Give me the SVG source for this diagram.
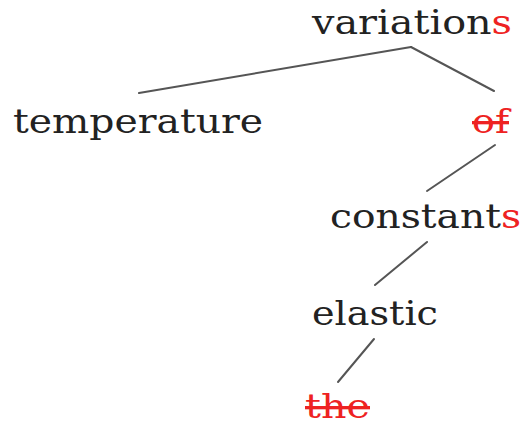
<svg xmlns="http://www.w3.org/2000/svg" width="525" height="428" viewBox="0 0 525 428">
<style>
text{font-family:"DejaVu Serif","Liberation Serif",serif;font-size:33px;fill:#222}
.r{fill:#ee2222}
.x{fill:#ee2222;text-decoration:line-through}
.e line{stroke:#555;stroke-width:2;stroke-linecap:round}
</style>
<rect width="525" height="428" fill="#fff"/>
<g id="edges" class="e">
<line x1="411" y1="47" x2="139" y2="93"/>
<line x1="411" y1="47" x2="494" y2="91"/>
<line x1="495" y1="145" x2="427" y2="191"/>
<line x1="427" y1="242" x2="375" y2="285"/>
<line x1="374" y1="339" x2="338" y2="382"/>
</g>
<g id="n-variations"><text x="312" y="34" textLength="200" lengthAdjust="spacingAndGlyphs">variation<tspan class="r">s</tspan></text></g>
<g id="n-temperature"><text x="13" y="133" textLength="250" lengthAdjust="spacingAndGlyphs">temperature</text></g>
<g id="n-of"><text class="x" x="472" y="133" textLength="37" lengthAdjust="spacingAndGlyphs">of</text></g>
<g id="n-constants"><text x="330" y="228" textLength="191" lengthAdjust="spacingAndGlyphs">constant<tspan class="r">s</tspan></text></g>
<g id="n-elastic"><text x="312" y="325" textLength="126" lengthAdjust="spacingAndGlyphs">elastic</text></g>
<g id="n-the"><text class="x" x="305" y="418" font-size="31" textLength="65" lengthAdjust="spacingAndGlyphs">the</text></g>
</svg>
